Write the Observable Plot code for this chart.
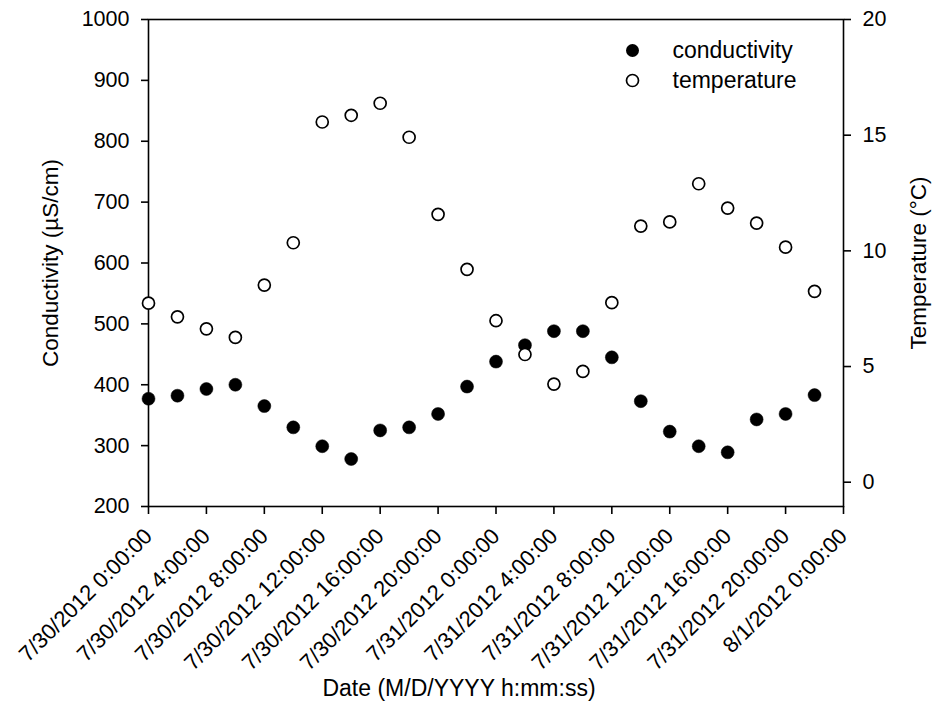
<!DOCTYPE html>
<html><head><meta charset="utf-8">
<script src="https://cdn.jsdelivr.net/npm/d3@7"></script>
<script src="https://cdn.jsdelivr.net/npm/@observablehq/plot@0.6"></script>
<style>
body{margin:0;background:#fff}
#chart{width:935px;height:705px}
</style>
</head><body><div id="chart"></div>
<script>
// Sample times: hours after 7/30/2012 0:00:00
const sampleHours = [0,2,4,6,8,10,12,14,16,18,20,22,24,26,28,30,32,34,36,38,40,42,44,46];
const conductivity = [377,382,393,400,365,330,299,278,325,330,352,397,438,465,488,488,445,373,323,299,289,343,352,383];
const temperature = [7.74,7.15,6.63,6.26,8.52,10.35,15.57,15.86,16.38,14.91,11.58,9.2,6.98,5.52,4.24,4.79,7.76,11.07,11.25,12.9,11.85,11.2,10.16,8.25];
const seriesNames = ["conductivity","temperature"];
const xTickLabels = ["7/30/2012 0:00:00","7/30/2012 4:00:00","7/30/2012 8:00:00","7/30/2012 12:00:00","7/30/2012 16:00:00","7/30/2012 20:00:00","7/31/2012 0:00:00","7/31/2012 4:00:00","7/31/2012 8:00:00","7/31/2012 12:00:00","7/31/2012 16:00:00","7/31/2012 20:00:00","8/1/2012 0:00:00"];
const condTicks = [200,300,400,500,600,700,800,900,1000];
const tempTicks = [0,5,10,15,20];
const xTitle = "Date (M/D/YYYY h:mm:ss)";
const yTitle = "Conductivity (\u00b5S/cm)";
const y2Title = "Temperature (\u00b0C)";

const parse = d3.utcParse("%m/%d/%Y %H:%M:%S");
const start = parse(xTickLabels[0]);
const end = parse(xTickLabels[xTickLabels.length-1]);
const xTicks = xTickLabels.map(parse);
const labelOf = new Map(xTicks.map((d,i)=>[+d, xTickLabels[i]]));

const data = sampleHours.map((h,i)=>({
  date: new Date(+start + h*3600e3),
  cond: conductivity[i],
  temp: temperature[i]
}));

const tempToCond = d3.scaleLinear([-1.05, 20], [200, 1000]);

const font = "'Liberation Sans', Arial, sans-serif";
const fs = 21.5;
const ts = 22.5;

const chart = Plot.plot({
  width: 935, height: 705,
  marginLeft: 148, marginRight: 92, marginTop: 19, marginBottom: 199,
  style: {fontFamily: font, fontSize: fs + "px", color: "#000", background: "#fff"},
  x: {type: "utc", domain: [start, end]},
  y: {domain: [200, 1000]},
  marks: [
    Plot.frame({stroke: "#000", strokeWidth: 1.6}),
    Plot.axisY({anchor: "left", ticks: condTicks, tickFormat: d => String(d), tickSize: 7, tickPadding: 12, strokeWidth: 1.6, label: null, fontSize: fs}),
    Plot.axisY({anchor: "right", ticks: tempTicks.map(t => tempToCond(t)), tickFormat: d => String(Math.round(tempToCond.invert(d))), tickSize: 7, tickPadding: 12, strokeWidth: 1.6, label: null, fontSize: fs}),
    Plot.axisX({anchor: "bottom", ticks: xTicks, tickFormat: d => labelOf.get(+d), tickRotate: -45, tickSize: 8, tickPadding: 18, strokeWidth: 1.6, label: null, fontSize: 22, style: {letterSpacing: "0.3px"}}),
    Plot.text([yTitle], {text: d => d, frameAnchor: "left", dx: -98, rotate: -90, textAnchor: "middle", lineAnchor: "middle", fontSize: ts}),
    Plot.text([y2Title], {text: d => d, frameAnchor: "right", dx: 75, rotate: -90, textAnchor: "middle", lineAnchor: "middle", fontSize: ts}),
    Plot.text([xTitle], {text: d => d, frameAnchor: "bottom", dx: -37, dy: 182, textAnchor: "middle", lineAnchor: "middle", fontSize: 23}),
    Plot.dot(data, {x: "date", y: "cond", r: 6.5, fill: "#000", stroke: "#000", strokeWidth: 0.5}),
    Plot.dot(data, {x: "date", y: d => tempToCond(d.temp), r: 6, fill: "#fff", stroke: "#000", strokeWidth: 1.7}),
    // legend
    Plot.dot([seriesNames[0]], {frameAnchor: "top-left", dx: 484, dy: 31, r: 6.5, fill: "#000"}),
    Plot.dot([seriesNames[1]], {frameAnchor: "top-left", dx: 484, dy: 61, r: 6, fill: "#fff", stroke: "#000", strokeWidth: 1.7}),
    Plot.text([seriesNames[0]], {text: d => d, frameAnchor: "top-left", dx: 524, dy: 31, textAnchor: "start", lineAnchor: "middle", fontSize: 23}),
    Plot.text([seriesNames[1]], {text: d => d, frameAnchor: "top-left", dx: 524, dy: 61, textAnchor: "start", lineAnchor: "middle", fontSize: 23})
  ]
});
document.getElementById("chart").appendChild(chart);
</script>
</body></html>
